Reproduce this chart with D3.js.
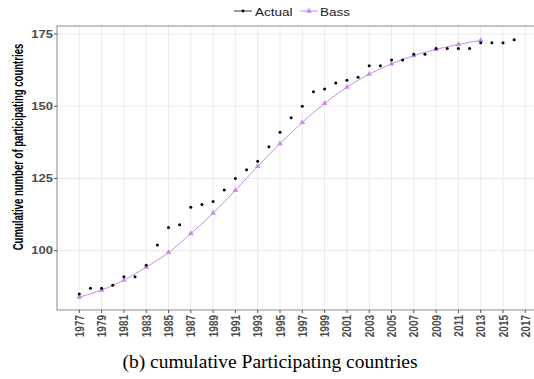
<!DOCTYPE html>
<html>
<head>
<meta charset="utf-8">
<script src="https://cdn.jsdelivr.net/npm/d3@7/dist/d3.min.js"></script>
<style>
  html, body { margin: 0; padding: 0; background: #fff; }
  svg { display: block; }
</style>
</head>
<body>
<svg id="chart" width="534" height="379"></svg>
<script>
// Cumulative number of participating countries, observed vs. Bass diffusion fit
const years = d3.range(1977, 2017);
const actual = [85, 87, 87, 88, 91, 91, 95, 102, 108, 109,
                115, 116, 117, 121, 125, 128, 131, 136, 141, 146,
                150, 155, 156, 158, 159, 160, 164, 164, 166, 166,
                168, 168, 170, 170, 170, 170, 172, 172, 172, 173];
const bassYears = d3.range(1977, 2014, 2);
const bass = [83.9, 86.4, 89.8, 94.3, 99.4, 105.9, 113.0, 120.9, 129.2, 137.1,
              144.4, 151.0, 156.6, 161.1, 164.7, 167.5, 169.7, 171.4, 172.8];
const xTicks = d3.range(1977, 2018, 2);
const yTicks = [100, 125, 150, 175];

const svg = d3.select("#chart");
const panel = { left: 57, right: 534, top: 26, bottom: 310 };

const x = d3.scaleLinear().domain([1977, 2017]).range([79.3, 525.3]);
const y = d3.scaleLinear().domain([100, 175]).range([250.7, 34]);

const gridColor = "#ebebeb";
const purple = "#c98be8";
const squish = 0.8;

// gridlines
svg.append("g").selectAll("line.v").data(xTicks).join("line")
  .attr("x1", d => x(d)).attr("x2", d => x(d))
  .attr("y1", panel.top).attr("y2", panel.bottom)
  .attr("stroke", gridColor).attr("stroke-width", 1);
svg.append("g").selectAll("line.h").data(yTicks).join("line")
  .attr("x1", panel.left).attr("x2", panel.right)
  .attr("y1", d => y(d)).attr("y2", d => y(d))
  .attr("stroke", gridColor).attr("stroke-width", 1);

// panel border
svg.append("rect")
  .attr("x", panel.left).attr("y", panel.top)
  .attr("width", panel.right - panel.left + 2).attr("height", panel.bottom - panel.top)
  .attr("fill", "none").attr("stroke", "#8c8c8c").attr("stroke-width", 1);

// ticks
svg.append("g").selectAll("line").data(xTicks).join("line")
  .attr("x1", d => x(d)).attr("x2", d => x(d))
  .attr("y1", panel.bottom).attr("y2", panel.bottom + 3)
  .attr("stroke", "#555");
svg.append("g").selectAll("line").data(yTicks).join("line")
  .attr("x1", panel.left - 3).attr("x2", panel.left)
  .attr("y1", d => y(d)).attr("y2", d => y(d))
  .attr("stroke", "#555");

// tick labels
svg.append("g").selectAll("text").data(xTicks).join("text")
  .attr("transform", d => `translate(${x(d) + 4.5},${panel.bottom + 5}) scale(1,${squish}) rotate(-90)`)
  .attr("text-anchor", "end")
  .attr("font-family", "Liberation Sans, Arial, sans-serif")
  .attr("font-size", 12.5).attr("font-weight", "bold")
  .attr("fill", "#4d4d4d")
  .text(d => d);
svg.append("g").selectAll("text").data(yTicks).join("text")
  .attr("transform", d => `translate(${panel.left - 4},${y(d) + 3.5}) scale(1,${squish})`)
  .attr("text-anchor", "end")
  .attr("font-family", "Liberation Sans, Arial, sans-serif")
  .attr("font-size", 13).attr("font-weight", "bold")
  .attr("fill", "#4d4d4d")
  .text(d => d);

// y axis title
const yTitle = svg.append("text")
  .attr("text-anchor", "middle")
  .attr("font-family", "Liberation Sans, Arial, sans-serif")
  .attr("font-size", 14.5).attr("font-weight", "bold")
  .attr("fill", "#000")
  .text("Cumulative number of participating countries");
const titleLen = yTitle.node().getComputedTextLength();
yTitle.attr("transform", `translate(23,147) scale(1,${207 / titleLen}) rotate(-90)`);

// Bass fit line and markers
const line = d3.line().x((d, i) => x(bassYears[i])).y(d => y(d)).curve(d3.curveMonotoneX);
svg.append("path").datum(bass)
  .attr("d", line)
  .attr("fill", "none").attr("stroke", purple).attr("stroke-width", 1);
const tri = d3.symbol().type(d3.symbolTriangle).size(14);
svg.append("g").selectAll("path").data(bass).join("path")
  .attr("transform", (d, i) => `translate(${x(bassYears[i])},${y(d)})`)
  .attr("d", tri)
  .attr("fill", purple);

// observed points
svg.append("g").selectAll("circle").data(actual).join("circle")
  .attr("cx", (d, i) => x(years[i])).attr("cy", d => y(d))
  .attr("r", 1.5).attr("fill", "#000");

// legend
const lg = svg.append("g").attr("font-family", "Liberation Sans, Arial, sans-serif");
lg.append("line").attr("x1", 234).attr("x2", 252).attr("y1", 11).attr("y2", 11)
  .attr("stroke", "#000").attr("stroke-width", 0.8);
lg.append("circle").attr("cx", 243).attr("cy", 11).attr("r", 1.4).attr("fill", "#000");
lg.append("text").attr("transform", "translate(255,15.5) scale(1,0.85)")
  .attr("font-size", 13.5).attr("fill", "#1a1a1a").text("Actual");
lg.append("line").attr("x1", 300).attr("x2", 318).attr("y1", 11).attr("y2", 11)
  .attr("stroke", purple).attr("stroke-width", 1);
lg.append("path").attr("transform", "translate(309,11)").attr("d", tri).attr("fill", purple);
lg.append("text").attr("transform", "translate(320,15.5) scale(1,0.85)")
  .attr("font-size", 13.5).attr("fill", "#1a1a1a").text("Bass");

// caption
svg.append("text")
  .attr("x", 270).attr("y", 368)
  .attr("text-anchor", "middle")
  .attr("font-family", "Liberation Serif, Times New Roman, serif")
  .attr("font-size", 19.5).attr("fill", "#000")
  .text("(b) cumulative Participating countries");
</script>
</body>
</html>
